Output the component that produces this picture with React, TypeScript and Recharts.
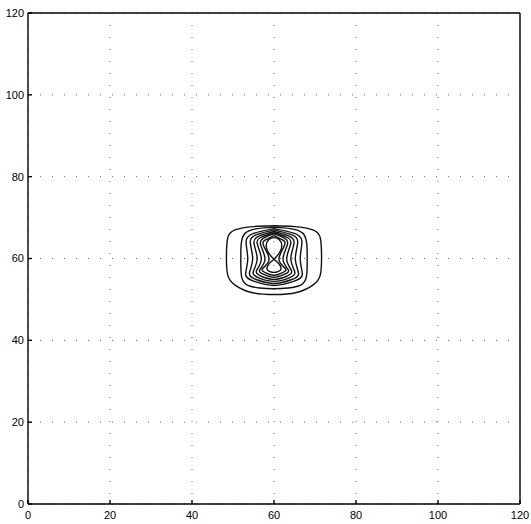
import { CartesianGrid, ComposedChart, Line, XAxis, YAxis } from 'recharts';

type Pt = { x: number; y: number };

const axisTicks = [0, 20, 40, 60, 80, 100, 120];

const pts = (raw: number[][]): Pt[] => raw.map(([x, y]) => ({ x, y }));

// contour levels, outermost first
const contour1 = pts([
  [60, 68.0], [65, 67.8], [69.5, 67.0], [71.3, 65.0], [71.6, 60.5], [71.3, 56.0], [69.5, 53.5], [65.5, 51.7],
  [60, 51.2], [54.5, 51.7], [50.5, 53.5], [48.7, 56.0], [48.4, 60.5], [48.7, 65.0], [50.5, 67.0], [55, 67.8], [60, 68.0],
]);
const contour2 = pts([
  [60, 67.6], [64, 67.3], [67, 66.2], [68.0, 63.5], [68.1, 59.5], [67.9, 55.5], [66.5, 53.5], [63.5, 52.8],
  [60, 52.6], [56.5, 52.8], [53.5, 53.5], [52.1, 55.5], [51.9, 59.5], [52.0, 63.5], [53, 66.2], [56, 67.3], [60, 67.6],
]);
const contour3 = pts([
  [60, 67.3], [64.8, 66.2], [66.8, 64.3], [66.4, 59.8], [66.9, 56.0], [64.8, 54.4], [60, 53.4],
  [55.2, 54.4], [53.1, 56.0], [53.6, 59.8], [53.2, 64.3], [55.2, 66.2], [60, 67.3],
]);
const contour4 = pts([
  [60, 67.0], [64.1, 65.9], [65.8, 64.1], [65.2, 59.8], [66.0, 56.3], [64.2, 54.8], [60, 53.9],
  [55.8, 54.8], [54.0, 56.3], [54.8, 59.8], [54.2, 64.1], [55.9, 65.9], [60, 67.0],
]);
const contour5 = pts([
  [60, 66.6], [63.4, 65.6], [64.9, 63.9], [64.1, 59.8], [65.1, 56.6], [63.6, 55.2], [60, 54.4],
  [56.4, 55.2], [54.9, 56.6], [55.9, 59.8], [55.1, 63.9], [56.6, 65.6], [60, 66.6],
]);
const contour6 = pts([
  [60, 66.3], [62.9, 65.3], [64.1, 63.7], [63.1, 59.8], [64.3, 56.9], [63.0, 55.6], [60, 54.9],
  [57.0, 55.6], [55.7, 56.9], [56.9, 59.8], [55.9, 63.7], [57.1, 65.3], [60, 66.3],
]);
const contour7 = pts([
  [60, 66.0], [62.3, 65.1], [63.3, 63.5], [62.2, 59.8], [63.5, 57.2], [62.5, 56.1], [60, 55.4],
  [57.5, 56.1], [56.5, 57.2], [57.8, 59.8], [56.7, 63.5], [57.7, 65.1], [60, 66.0],
]);
const contour8 = pts([
  [60, 65.6], [61.8, 64.7], [62.6, 63.3], [61.2, 59.8], [62.8, 57.5], [62.0, 56.5], [60, 55.9],
  [58.0, 56.5], [57.2, 57.5], [58.8, 59.8], [57.4, 63.3], [58.2, 64.7], [60, 65.6],
]);
// innermost level: two lobes meeting at the saddle
const contour9 = pts([
  [60, 59.8], [61.4, 61.5], [61.9, 63.2], [61.3, 64.6], [60, 65.1], [58.7, 64.6], [58.1, 63.2], [58.6, 61.5],
  [60, 59.8], [61.3, 58.6], [61.7, 57.4], [61.0, 56.8], [60, 56.6], [59.0, 56.8], [58.3, 57.4], [58.7, 58.6], [60, 59.8],
]);

const contours = [contour1, contour2, contour3, contour4, contour5, contour6, contour7, contour8, contour9];

const tickFont = { fill: '#000', fontSize: 11, fontFamily: '"Liberation Sans", Arial, sans-serif' };
const blank = () => '';

export default function App() {
  return (
    <div style={{ position: 'absolute', left: 0, top: 0, background: '#fff' }}>
      <ComposedChart width={531} height={524} margin={{ top: 12, right: 10, bottom: 0, left: 0 }}>
        <CartesianGrid stroke="#666" strokeDasharray="1 11" />
        <XAxis
          dataKey="x"
          type="number"
          domain={[0, 120]}
          ticks={axisTicks}
          height={20}
          tick={tickFont}
          tickSize={-4}
          tickMargin={11}
          stroke="#000"
          strokeWidth={1.4}
          allowDataOverflow
        />
        <XAxis
          xAxisId="top"
          orientation="top"
          type="number"
          domain={[0, 120]}
          ticks={axisTicks}
          height={1}
          tickFormatter={blank}
          tickSize={-4}
          stroke="#000"
          strokeWidth={1.4}
        />
        <YAxis
          type="number"
          domain={[0, 120]}
          ticks={axisTicks}
          width={28}
          tick={tickFont}
          tickSize={-4}
          tickMargin={8}
          stroke="#000"
          strokeWidth={1.4}
          allowDataOverflow
        />
        <YAxis
          yAxisId="right"
          orientation="right"
          type="number"
          domain={[0, 120]}
          ticks={axisTicks}
          width={1}
          tickFormatter={blank}
          tickSize={-4}
          stroke="#000"
          strokeWidth={1.4}
        />
        {contours.map((c, i) => (
          <Line
            key={i}
            data={c}
            dataKey="y"
            type="natural"
            dot={false}
            activeDot={false}
            stroke="#111"
            strokeWidth={1.4}
            legendType="none"
            isAnimationActive={false}
          />
        ))}
      </ComposedChart>
    </div>
  );
}
